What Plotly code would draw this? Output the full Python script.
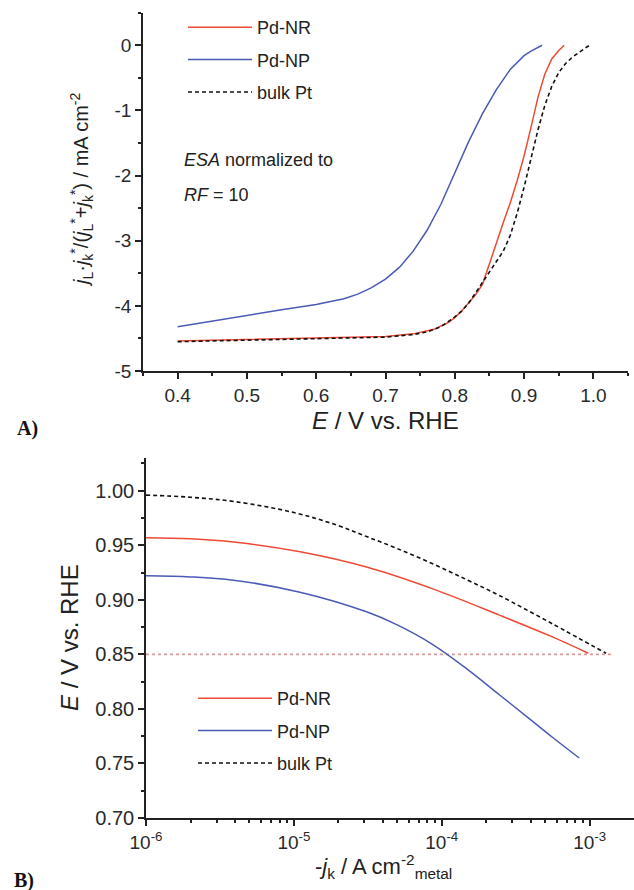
import plotly.graph_objects as go

W, H = 634, 890
FONT = "Liberation Sans, Arial, sans-serif"

# ---- Panel A: ORR polarisation curves (current vs potential) ----
e_nr = [0.40, 0.45, 0.50, 0.55, 0.60, 0.65, 0.70, 0.74, 0.77, 0.79, 0.80, 0.81, 0.82,
        0.83, 0.84, 0.85, 0.86, 0.87, 0.88, 0.89, 0.90, 0.91, 0.92, 0.93, 0.94, 0.95, 0.958]
j_nr = [-4.54, -4.53, -4.52, -4.51, -4.50, -4.49, -4.47, -4.43, -4.36, -4.26, -4.18, -4.08, -3.96,
        -3.83, -3.67, -3.37, -3.04, -2.72, -2.42, -2.08, -1.70, -1.26, -0.80, -0.44, -0.21, -0.08, 0.0]

e_np = [0.40, 0.45, 0.50, 0.55, 0.60, 0.62, 0.64, 0.66, 0.68, 0.70, 0.72, 0.74, 0.76, 0.78,
        0.80, 0.82, 0.84, 0.86, 0.88, 0.90, 0.91, 0.926]
j_np = [-4.32, -4.23, -4.14, -4.06, -3.98, -3.94, -3.89, -3.82, -3.72, -3.59, -3.41, -3.16, -2.84, -2.44,
        -1.96, -1.48, -1.05, -0.68, -0.37, -0.16, -0.09, 0.0]

e_pt = [0.40, 0.45, 0.50, 0.55, 0.60, 0.65, 0.70, 0.74, 0.76, 0.78, 0.79, 0.80, 0.81, 0.82,
        0.83, 0.84, 0.85, 0.86, 0.87, 0.88, 0.89, 0.90, 0.91, 0.92, 0.93, 0.94, 0.95, 0.96,
        0.97, 0.98, 0.99, 0.995]
j_pt = [-4.55, -4.54, -4.53, -4.52, -4.51, -4.50, -4.48, -4.44, -4.40, -4.32, -4.25, -4.17, -4.08, -3.96,
        -3.80, -3.64, -3.50, -3.34, -3.16, -2.92, -2.58, -2.18, -1.74, -1.30, -0.92, -0.63, -0.42, -0.28,
        -0.18, -0.10, -0.03, 0.0]

ya_ticks = [0, -1, -2, -3, -4, -5]
ya_text = ["0", "-1", "-2", "-3", "-4", "-5"]

# ---- Panel B: Tafel plots (potential vs kinetic current density) ----
jk_nr = [1.0e-6, 2.0e-6, 3.9e-6, 1.1e-5, 3.1e-5, 8.7e-5, 2.45e-4, 5.6e-4, 9.8e-4]
ek_nr = [0.957, 0.956, 0.953, 0.944, 0.930, 0.910, 0.886, 0.866, 0.851]

jk_np = [1.0e-6, 2.0e-6, 3.9e-6, 1.1e-5, 3.1e-5, 5.0e-5, 8.7e-5, 1.5e-4, 2.45e-4, 4.0e-4,
         5.6e-4, 8.5e-4]
ek_np = [0.922, 0.921, 0.918, 0.907, 0.889, 0.877, 0.859, 0.836, 0.813, 0.790,
         0.774, 0.755]

jk_pt = [1.0e-6, 2.0e-6, 4.0e-6, 1.0e-5, 2.0e-5, 3.1e-5, 5.0e-5, 8.7e-5, 1.5e-4, 2.45e-4,
         5.6e-4, 1.29e-3]
ek_pt = [0.996, 0.994, 0.990, 0.980, 0.968, 0.958, 0.947, 0.933, 0.918, 0.904,
         0.878, 0.851]

ref_j = [1.0e-6, 1.4e-3]
ref_e = [0.85, 0.85]

xb_ticks = [1e-6, 1e-5, 1e-4, 1e-3]
xb_text = ["10<sup>-6</sup>", "10<sup>-5</sup>", "10<sup>-4</sup>", "10<sup>-3</sup>"]
xb_minor = [m * 10.0 ** p for p in (-6, -5, -4, -3) for m in range(2, 10) if m * 10.0 ** p < 2e-3]

RED = "#ee4a35"
BLUE = "#4a5ab5"
BLACK = "#111111"
INK = "#222222"


def px(x):
    return x / W


def py(y):
    return 1 - y / H


fig = go.Figure()

# panel A traces
fig.add_trace(go.Scatter(x=e_nr, y=j_nr, name="Pd-NR", mode="lines", legend="legend",
                         legendgroup="a1", line=dict(color=RED, width=1.5),
                         xaxis="x", yaxis="y"))
fig.add_trace(go.Scatter(x=e_np, y=j_np, name="Pd-NP", mode="lines", legend="legend",
                         legendgroup="a2", line=dict(color=BLUE, width=1.5),
                         xaxis="x", yaxis="y"))
fig.add_trace(go.Scatter(x=e_pt, y=j_pt, name="bulk Pt", mode="lines", legend="legend",
                         legendgroup="a3",
                         line=dict(color=BLACK, width=1.6, dash="4px,3px"),
                         xaxis="x", yaxis="y"))

# panel B traces
fig.add_trace(go.Scatter(x=ref_j, y=ref_e, mode="lines", showlegend=False,
                         line=dict(color="#d69a9a", width=1.6, dash="dot"),
                         xaxis="x2", yaxis="y2"))
fig.add_trace(go.Scatter(x=jk_nr, y=ek_nr, name="Pd-NR", mode="lines", legend="legend2",
                         legendgroup="b1", line=dict(color=RED, width=1.5, shape="spline"),
                         xaxis="x2", yaxis="y2"))
fig.add_trace(go.Scatter(x=jk_np, y=ek_np, name="Pd-NP", mode="lines", legend="legend2",
                         legendgroup="b2", line=dict(color=BLUE, width=1.5, shape="spline"),
                         xaxis="x2", yaxis="y2"))
fig.add_trace(go.Scatter(x=jk_pt, y=ek_pt, name="bulk Pt", mode="lines", legend="legend2",
                         legendgroup="b3",
                         line=dict(color=BLACK, width=1.6, dash="4px,3px", shape="spline"),
                         xaxis="x2", yaxis="y2"))

axis_common = dict(showline=True, linecolor=INK, linewidth=1.5, showgrid=False,
                   zeroline=False, ticks="outside", ticklen=6, tickwidth=1.5, automargin=False,
                   tickcolor=INK)
minor_common = dict(ticks="outside", ticklen=3, tickwidth=1.5, tickcolor=INK)


def tick_font(size):
    return dict(family=FONT, size=size, color="#2a2a2a")


fig.update_layout(
    width=W, height=H,
    margin=dict(l=0, r=0, t=0, b=0, autoexpand=False),
    paper_bgcolor="white", plot_bgcolor="white",
    font=dict(family=FONT, color=INK),
    xaxis=dict(domain=[px(143), px(628)], range=[0.35, 1.05], anchor="y",
               tick0=0.4, dtick=0.1, tickformat=".1f", tickfont=tick_font(19),
               minor=dict(dtick=0.05, tick0=0.35, **minor_common),
               **axis_common),
    yaxis=dict(domain=[py(371), py(12.7)], range=[-5, 0.5], anchor="x",
               tickvals=ya_ticks, ticktext=ya_text, tickfont=tick_font(19),
               minor=dict(dtick=0.5, tick0=0, **minor_common),
               **axis_common),
    xaxis2=dict(domain=[px(146), 1.0], type="log", range=[-6, -2.7], anchor="y2",
                tickvals=xb_ticks, ticktext=xb_text, tickfont=tick_font(19),
                minor=dict(tickvals=xb_minor, **minor_common),
                **axis_common),
    yaxis2=dict(domain=[py(818), py(458)], range=[0.70, 1.03], anchor="x2",
                tick0=0.70, dtick=0.05, tickformat=".2f", tickfont=tick_font(20),
                minor=dict(dtick=0.025, tick0=0.70, **minor_common),
                **axis_common),
    legend=dict(x=px(183), y=py(9), xanchor="left", yanchor="top",
                bgcolor="rgba(0,0,0,0)", font=dict(family=FONT, size=18, color=INK),
                traceorder="grouped", tracegroupgap=6, itemwidth=64),
    legend2=dict(x=px(193), y=py(680), xanchor="left", yanchor="top",
                 bgcolor="rgba(0,0,0,0)", font=dict(family=FONT, size=18, color=INK),
                 traceorder="grouped", tracegroupgap=6, itemwidth=74),
)


def note(x, y, text, size, angle=0, xanchor="center", family=FONT, color=INK):
    return dict(x=px(x), y=py(y), xref="paper", yref="paper", showarrow=False,
                xanchor=xanchor, yanchor="middle", textangle=angle, text=text,
                font=dict(family=family, size=size, color=color))


ann = [
    # axis titles
    note(385, 420, "<i>E</i> / V vs. RHE", 24),
    note(82, 190, "<i>j</i><sub>L</sub>·<i>j</i><sub>k</sub><sup>*</sup>/(<i>j</i><sub>L</sub><sup>*</sup>"
                  "+<i>j</i><sub>k</sub><sup>*</sup>) / mA cm<sup>-2</sup>", 20, angle=-90),
    note(383, 866, "-<i>j</i><sub>k</sub> / A cm<sup>-2</sup><sub>metal</sub>", 22),
    note(69, 638, "<i>E</i> / V vs. RHE", 24, angle=-90),
    # in-plot notes
    note(182, 160, "<i>ESA</i> normalized to", 18, xanchor="left"),
    note(182, 195, "<i>RF</i> = 10", 18, xanchor="left"),
    # panel labels
    note(15, 428, "<b>A)</b>", 20, xanchor="left",
         family="Liberation Serif, Times New Roman, serif", color="#111111"),
    note(12, 880, "<b>B)</b>", 20, xanchor="left",
         family="Liberation Serif, Times New Roman, serif", color="#111111"),
]
fig.update_layout(annotations=ann)

fig.write_html("out.html")
